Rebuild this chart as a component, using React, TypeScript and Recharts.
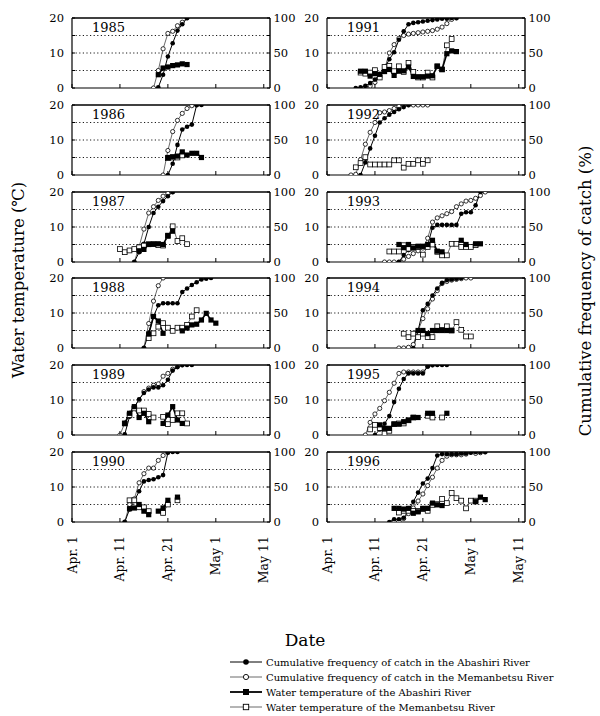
import React from 'react';
import { ComposedChart, Line, XAxis, YAxis, ReferenceLine } from 'recharts';

type S = { start: number; v: (number | null)[] };

// Day numbers: 0 = Apr. 1, 10 = Apr. 11, 20 = Apr. 21, 30 = May 1, 40 = May 11
const DATE_TICKS = [0, 10, 20, 30, 40];
const DATE_LABELS = ['Apr. 1', 'Apr. 11', 'Apr. 21', 'May 1', 'May 11'];
const TEMP_TICKS = [0, 5, 10, 15, 20];
const CUM_TICKS = [0, 25, 50, 75, 100];

// 1985
const catchA1985: S = { start: 18, v: [1, 19, 45, 64, 82, 91, 100] };
const catchM1985: S = { start: 17, v: [0, 25, 56, 78, 81, 89, 94, 100] };
const tempA1985: S = { start: 18, v: [3.8, 5.7, 6.0, 6.4, 6.6, 6.9, 6.7] };
const tempM1985: S = { start: 18, v: [] };
// 1986
const catchA1986: S = { start: 20, v: [0, 16, 43, 65, 69, 72, 100, 100] };
const catchM1986: S = { start: 19, v: [0, 35, 62, 78, 88, 95, 99, 100] };
const tempA1986: S = { start: 20, v: [5.0, 5.2, 5.4, 6.6, 5.7, 6.2, 6.2, 5.0] };
const tempM1986: S = { start: 20, v: [4.8, 5.0, 5.0, 5.6] };
// 1987
const catchA1987: S = { start: 13, v: [0, 14, 26, 50, 70, 79, 87, 94, 100] };
const catchM1987: S = { start: 13, v: [0, 22, 47, 70, 79, 88, 94, 98, 100] };
const tempA1987: S = { start: 14, v: [3.2, 3.6, 5.0, 5.1, 5.2, 5.0, 7.6, 8.8] };
const tempM1987: S = { start: 10, v: [3.7, 2.8, 3.3, 3.7, 4.2, 4.7, 5.1, 5.1, 4.8, 4.7, 7.4, 10.2, 6.0, 6.8, 5.1] };
// 1988
const catchA1988: S = { start: 15, v: [0, 21, 45, 61, 64, 64, 64, 64, 80, 85, 90, 94, 98, 99, 100] };
const catchM1988: S = { start: 15, v: [0, 35, 67, 89, 100] };
const tempA1988: S = { start: 16, v: [4.0, 9.0, 7.7, 4.2, null, null, null, 4.9, 5.7, 6.6, 6.8, 8.0, 9.9, 8.0, 7.1] };
const tempM1988: S = { start: 16, v: [2.8, 4.2, 6.1, 7.1, 5.8, 4.9, 5.8, 5.8, 6.6, 9.0, 10.8] };
// 1989
const catchA1989: S = { start: 11, v: [1, 26, 40, 51, 60, 65, 68, 68, 71, 79, 92, 97, 100, 100, 100] };
const catchM1989: S = { start: 10, v: [0, 17, 31, 40, 50, 62, 67, 71, 73, 84, 88, 94, 98, 100] };
const tempA1989: S = { start: 11, v: [3.3, 6.2, 8.1, 5.0, 6.2, 3.8, null, null, 3.3, 5.7, 8.1, 4.3, 3.3] };
const tempM1989: S = { start: 11, v: [3.3, 5.7, 7.6, 7.0, 7.0, 6.0, 5.0, null, 5.2, 3.1, 4.3, 6.2, 6.2, 3.3] };
// 1990
const catchA1990: S = { start: 11, v: [0, 18, 30, 44, 58, 60, 61, 64, 67, 99, 100, 100] };
const catchM1990: S = { start: 11, v: [0, 25, 33, 56, 69, 77, 77, 88, 95, 100] };
const tempA1990: S = { start: 12, v: [3.8, 4.0, 5.0, 3.1, 2.1, null, 3.1, 4.0, 6.2, null, 7.1] };
const tempM1990: S = { start: 12, v: [6.2, 6.2, 4.2, 4.2, 3.1, null, null, 2.6, 5.0, null, 6.2] };
// 1991
const catchA1991: S = { start: 6, v: [0, 1, 3, 7, 12, 20, 28, 41, 51, 69, 81, 91, 93, 94, 95, 96, 97, 98, 99, 99, 100, 100] };
const catchM1991: S = { start: 8, v: [1, 3, 8, 15, 27, 50, 62, 71, 75, 77, 78, 79, 80, 81, 82, 84, 87, 92, 98, 100] };
const tempA1991: S = { start: 7, v: [4.8, 4.8, 3.4, 4.1, 3.9, 4.7, 5.3, 3.6, 4.8, 4.9, 6.0, 3.3, 3.2, 3.2, 3.4, 3.5, 6.2, 5.3, 9.8, 10.6, 10.4] };
const tempM1991: S = { start: 7, v: [4.4, 4.1, 4.4, 5.1, 3.0, 6.0, 6.3, 4.8, 6.2, 4.6, 7.2, 4.6, 3.0, 3.0, 4.4, 3.0, 6.2, 5.3, 12.2, 14.0] };
// 1992
const catchA1992: S = { start: 7, v: [0, 18, 38, 56, 75, 81, 86, 90, 94, 97, 100] };
const catchM1992: S = { start: 5, v: [0, 1, 22, 44, 61, 75, 89, 90, 92, 95, 98, 100, 100, 100, 100, 100, 100] };
const tempA1992: S = { start: 6, v: [] };
const tempM1992: S = { start: 6, v: [2.2, 3.4, 5.1, 3.0, 3.0, 3.0, 3.0, 3.0, 4.2, 4.2, 2.1, 3.2, 3.2, 4.2, 3.2, 4.2] };
// 1993
const catchA1993: S = { start: 15, v: [0, 10, 17, 20, 21, 22, 24, 49, 53, 53, 53, 53, 53, 69, 71, 71, 81, 100] };
const catchM1993: S = { start: 12, v: [0, 0, 0, 0, 4, 8, 12, 16, 20, 34, 57, 63, 66, 69, 72, 79, 83, 87, 88, 91, 95, 100] };
const tempA1993: S = { start: 15, v: [5.0, 4.1, 5.0, 4.0, 4.5, 4.5, 5.0, 6.2, 3.1, 2.9, null, null, null, 6.2, 5.0, null, 5.2, 5.2] };
const tempM1993: S = { start: 13, v: [3.0, 3.0, 3.0, 4.8, 3.8, 4.3, 4.3, 2.1, 4.3, 5.0, 2.9, 1.9, 1.9, 5.2, 5.2, 4.3, 4.3, 4.3, 4.8] };
// 1994
const catchA1994: S = { start: 18, v: [0, 25, 54, 63, 75, 85, 93, 97, 98, 99, 100] };
const catchM1994: S = { start: 15, v: [0, 0, 1, 5, 25, 42, 56, 70, 82, 92, 95, 97, 98, 99, 100, 100] };
const tempA1994: S = { start: 19, v: [5.0, 5.0, 4.1, 5.0, 5.0, 5.0, 5.0, 5.0] };
const tempM1994: S = { start: 16, v: [4.1, 3.1, 4.1, 3.1, 4.1, 3.1, 3.1, 6.2, 5.2, 6.2, 5.0, 7.4, 5.2, 3.3, 3.3] };
// 1995
const catchA1995: S = { start: 10, v: [0, 8, 16, 27, 47, 66, 80, 88, 88, 88, 88, 98, 100, 100, 100, 100] };
const catchM1995: S = { start: 8, v: [0, 18, 30, 38, 49, 61, 74, 88, 90, 90, 90, 90, 90, 98, 100] };
const tempA1995: S = { start: 11, v: [2.9, 1.9, 1.9, 3.1, 3.1, 3.8, 4.2, 5.0, 5.0, null, 6.2, 6.2, null, null, 6.2] };
const tempM1995: S = { start: 9, v: [1.6, 2.9, 2.0, 0.4, 1.2, 3.1, 3.3, 3.3, 4.2, 5.0, null, null, 5.5, 5.0, null, 5.0] };
// 1996
const catchA1996: S = { start: 13, v: [0, 4, 4, 6, 16, 29, 42, 55, 62, 77, 95, 97, 97, 97, 97, 98, 98, 99, 100, 100, 100] };
const catchM1996: S = { start: 14, v: [0, 1, 5, 12, 20, 30, 40, 52, 64, 77, 88, 94, 96, 96, 96, 97, 100, 98, 99, 100] };
const tempA1996: S = { start: 14, v: [3.9, 3.9, 3.7, 3.9, 2.5, 2.9, 3.9, 3.9, 5.4, 4.9, 4.7, null, null, null, null, null, null, 5.8, 7.1, 6.4] };
const tempM1996: S = { start: 15, v: [2.7, 3.2, 3.2, 3.2, 3.2, 3.7, 3.2, 4.9, 5.1, 6.6, 5.4, 8.3, 6.8, 6.1, 3.9, 6.1, 6.1] };

const PANELS = [
  { year: '1985', col: 0, row: 0, cA: catchA1985, cM: catchM1985, tA: tempA1985, tM: tempM1985 },
  { year: '1986', col: 0, row: 1, cA: catchA1986, cM: catchM1986, tA: tempA1986, tM: tempM1986 },
  { year: '1987', col: 0, row: 2, cA: catchA1987, cM: catchM1987, tA: tempA1987, tM: tempM1987 },
  { year: '1988', col: 0, row: 3, cA: catchA1988, cM: catchM1988, tA: tempA1988, tM: tempM1988 },
  { year: '1989', col: 0, row: 4, cA: catchA1989, cM: catchM1989, tA: tempA1989, tM: tempM1989 },
  { year: '1990', col: 0, row: 5, cA: catchA1990, cM: catchM1990, tA: tempA1990, tM: tempM1990 },
  { year: '1991', col: 1, row: 0, cA: catchA1991, cM: catchM1991, tA: tempA1991, tM: tempM1991 },
  { year: '1992', col: 1, row: 1, cA: catchA1992, cM: catchM1992, tA: tempA1992, tM: tempM1992 },
  { year: '1993', col: 1, row: 2, cA: catchA1993, cM: catchM1993, tA: tempA1993, tM: tempM1993 },
  { year: '1994', col: 1, row: 3, cA: catchA1994, cM: catchM1994, tA: tempA1994, tM: tempM1994 },
  { year: '1995', col: 1, row: 4, cA: catchA1995, cM: catchM1995, tA: tempA1995, tM: tempM1995 },
  { year: '1996', col: 1, row: 5, cA: catchA1996, cM: catchM1996, tA: tempA1996, tM: tempM1996 },
];

const LEGEND_LABELS = [
  'Cumulative frequency of catch in the Abashiri River',
  'Cumulative frequency of catch in the Memanbetsu River',
  'Water temperature of the Abashiri River',
  'Water temperature of the Memanbetsu River',
];

const FONT = '"DejaVu Serif", "Liberation Serif", serif';
const PLOT_W = 198;
const PLOT_H = 70;
const YW = 40;
const RW = 40;
const MT = 10;
const COL_LEFT = [72, 327];
const ROW_TOP = [18, 105, 192, 278, 365, 452];

const toPts = (s: S) => s.v.map((v, i) => ({ day: s.start + i, v }));

const ok = (p: any) => p && p.cx != null && p.cy != null && !isNaN(p.cx) && !isNaN(p.cy) && p.value != null;
const keyOf = (p: any, t: string) => `${t}-${p.index}-${p.cx}`;

const FilledCircle = (p: any) =>
  ok(p) ? <circle key={keyOf(p, 'fc')} cx={p.cx} cy={p.cy} r={2.3} fill="#000" /> : <g key={keyOf(p, 'fcn')} />;
const OpenCircle = (p: any) =>
  ok(p) ? (
    <circle key={keyOf(p, 'oc')} cx={p.cx} cy={p.cy} r={2.1} fill="#fff" stroke="#000" strokeWidth={0.8} />
  ) : (
    <g key={keyOf(p, 'ocn')} />
  );
const FilledSquare = (p: any) =>
  ok(p) ? <rect key={keyOf(p, 'fs')} x={p.cx - 2.6} y={p.cy - 2.6} width={5.2} height={5.2} fill="#000" /> : <g key={keyOf(p, 'fsn')} />;
const OpenSquare = (p: any) =>
  ok(p) ? (
    <rect key={keyOf(p, 'os')} x={p.cx - 2.4} y={p.cy - 2.4} width={4.8} height={4.8} fill="#fff" stroke="#000" strokeWidth={0.8} />
  ) : (
    <g key={keyOf(p, 'osn')} />
  );

const XTick = (props: any) => {
  const { x, y, payload, showLabel } = props;
  const idx = DATE_TICKS.indexOf(payload.value);
  return (
    <g>
      <line x1={x} x2={x} y1={y} y2={y - 4} stroke="#000" strokeWidth={1} />
      {showLabel && idx >= 0 ? (
        <text
          transform={`translate(${x + 4.5},${y + 14}) rotate(-90)`}
          textAnchor="end"
          fontFamily={FONT}
          fontSize={12.5}
          fill="#000"
        >
          {DATE_LABELS[idx]}
        </text>
      ) : null}
    </g>
  );
};

const LTick = (props: any) => {
  const { x, y, payload } = props;
  const v = payload.value;
  return (
    <g>
      <line x1={x} x2={x + 3} y1={y} y2={y} stroke="#000" strokeWidth={1} />
      {v % 10 === 0 ? (
        <text x={x - 8} y={y} dy="0.36em" textAnchor="end" fontFamily={FONT} fontSize={11.5} fill="#000">
          {v}
        </text>
      ) : null}
    </g>
  );
};

const RTick = (props: any) => {
  const { x, y, payload } = props;
  const v = payload.value;
  return (
    <g>
      <line x1={x - 3} x2={x} y1={y} y2={y} stroke="#000" strokeWidth={1} />
      {v % 50 === 0 ? (
        <text x={x + 3.5} y={y} dy="0.36em" textAnchor="start" fontFamily={FONT} fontSize={11.5} fill="#000">
          {v}
        </text>
      ) : null}
    </g>
  );
};

function Panel({ p }: { p: (typeof PANELS)[number] }) {
  const bottom = p.row === 5;
  const xh = bottom ? 100 : 12;
  const w = YW + PLOT_W + RW;
  const h = MT + PLOT_H + xh;
  return (
    <div style={{ position: 'absolute', left: COL_LEFT[p.col] - YW, top: ROW_TOP[p.row] - MT, width: w, height: h }}>
      <ComposedChart width={w} height={h} margin={{ top: MT, right: 0, bottom: 0, left: 0 }}>
        <XAxis
          xAxisId="d"
          type="number"
          dataKey="day"
          domain={[0, 41.3]}
          ticks={DATE_TICKS}
          allowDataOverflow
          interval={0}
          height={xh}
          tickSize={0}
          tickMargin={0}
          tickLine={false}
          axisLine={{ stroke: '#000', strokeWidth: 1.2 }}
          tick={(t: any) => <XTick {...t} showLabel={bottom} />}
        />
        <YAxis
          yAxisId="t"
          type="number"
          domain={[0, 20]}
          ticks={TEMP_TICKS}
          allowDataOverflow
          interval={0}
          width={YW}
          tickSize={0}
          tickMargin={0}
          tickLine={false}
          axisLine={{ stroke: '#000', strokeWidth: 1.2 }}
          tick={(t: any) => <LTick {...t} />}
        />
        <YAxis
          yAxisId="c"
          orientation="right"
          type="number"
          domain={[0, 100]}
          ticks={CUM_TICKS}
          allowDataOverflow
          interval={0}
          width={RW}
          tickSize={0}
          tickMargin={0}
          tickLine={false}
          axisLine={{ stroke: '#000', strokeWidth: 1.4 }}
          tick={(t: any) => <RTick {...t} />}
        />
        {[5, 10, 15].map((g) => (
          <ReferenceLine key={g} xAxisId="d" yAxisId="t" y={g} stroke="#000" strokeWidth={0.9} strokeDasharray="1.2 2.4" />
        ))}
        <ReferenceLine xAxisId="d" yAxisId="t" y={20} stroke="#000" strokeWidth={1.5} />
        <Line
          xAxisId="d"
          yAxisId="c"
          data={toPts(p.cM)}
          dataKey="v"
          type="linear"
          stroke="#444"
          strokeWidth={0.8}
          dot={OpenCircle}
          activeDot={false}
          isAnimationActive={false}
        />
        <Line
          xAxisId="d"
          yAxisId="c"
          data={toPts(p.cA)}
          dataKey="v"
          type="linear"
          stroke="#000"
          strokeWidth={1}
          dot={FilledCircle}
          activeDot={false}
          isAnimationActive={false}
        />
        <Line
          xAxisId="d"
          yAxisId="t"
          data={toPts(p.tM)}
          dataKey="v"
          type="linear"
          stroke="#444"
          strokeWidth={0.8}
          dot={OpenSquare}
          activeDot={false}
          isAnimationActive={false}
        />
        <Line
          xAxisId="d"
          yAxisId="t"
          data={toPts(p.tA)}
          dataKey="v"
          type="linear"
          stroke="#000"
          strokeWidth={1.6}
          dot={FilledSquare}
          activeDot={false}
          isAnimationActive={false}
        />
      </ComposedChart>
      <div
        style={{
          position: 'absolute',
          left: YW + 20,
          top: MT + 2,
          fontFamily: FONT,
          fontSize: 13,
          lineHeight: '15px',
          color: '#000',
        }}
      >
        {p.year}
      </div>
    </div>
  );
}

function Legend() {
  const rows = [0, 1, 2, 3];
  const ys = [662, 677, 692, 707];
  return (
    <g>
      {rows.map((i) => {
        const y = ys[i];
        const thick = i === 2 ? 1.8 : i === 0 ? 1 : 0.8;
        const stroke = i === 0 || i === 2 ? '#000' : '#444';
        const mx = 246;
        return (
          <g key={i}>
            <line x1={230} x2={262} y1={y} y2={y} stroke={stroke} strokeWidth={thick} />
            {i === 0 && <circle cx={mx} cy={y} r={2.8} fill="#000" />}
            {i === 1 && <circle cx={mx} cy={y} r={2.6} fill="#fff" stroke="#000" strokeWidth={0.9} />}
            {i === 2 && <rect x={mx - 3} y={y - 3} width={6} height={6} fill="#000" />}
            {i === 3 && <rect x={mx - 2.7} y={y - 2.7} width={5.4} height={5.4} fill="#fff" stroke="#000" strokeWidth={0.9} />}
            <text x={266} y={y} dy="0.35em" fontFamily={FONT} fontSize={10} fill="#000">
              {LEGEND_LABELS[i]}
            </text>
          </g>
        );
      })}
    </g>
  );
}

export default function App() {
  return (
    <div style={{ position: 'absolute', left: 0, top: 0, width: 600, height: 716, background: '#fff', overflow: 'hidden' }}>
      {PANELS.map((p) => (
        <Panel key={p.year} p={p} />
      ))}
      <svg width={600} height={716} style={{ position: 'absolute', left: 0, top: 0, pointerEvents: 'none' }}>
        <text
          transform="translate(18,280) rotate(-90)"
          textAnchor="middle"
          dy="0.35em"
          fontFamily={FONT}
          fontSize={16.5}
          fill="#000"
        >
          Water temperature (℃)
        </text>
        <text
          transform="translate(585,291) rotate(-90)"
          textAnchor="middle"
          dy="0.35em"
          fontFamily={FONT}
          fontSize={16.5}
          fill="#000"
        >
          Cumulative frequency of catch (%)
        </text>
        <text x={305} y={640} textAnchor="middle" dy="0.35em" fontFamily={FONT} fontSize={17} fill="#000">
          Date
        </text>
        <Legend />
      </svg>
    </div>
  );
}
